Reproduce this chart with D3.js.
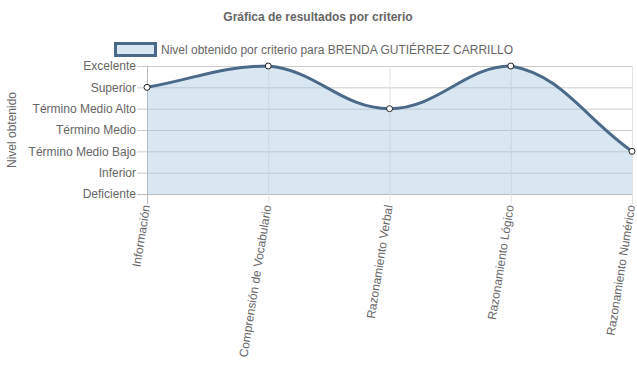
<!DOCTYPE html>
<html>
<head>
<meta charset="utf-8">
<script src="https://cdn.jsdelivr.net/npm/d3@7"></script>
<style>
  body { margin: 0; background: #fff; }
  text { font-family: "Liberation Sans", Arial, sans-serif; fill: #666; }
</style>
</head>
<body>
<svg id="chart" width="637" height="389"></svg>
<script>
const categories = ["Información", "Comprensión de Vocabulario", "Razonamiento Verbal", "Razonamiento Lógico", "Razonamiento Numérico"];
const levels = ["Deficiente", "Inferior", "Término Medio Bajo", "Término Medio", "Término Medio Alto", "Superior", "Excelente"];
const values = [5, 6, 4, 6, 2];
const seriesName = "Nivel obtenido por criterio para BRENDA GUTIÉRREZ CARRILLO";
const title = "Gráfica de resultados por criterio";

const lineColor = "#4b6a88";
const fillColor = "rgb(160,195,225)";

const svg = d3.select("#chart");
const area = { left: 147, right: 632, top: 66, bottom: 194 };

const x = d3.scalePoint().domain(categories).range([area.left, area.right]);
const y = d3.scaleLinear().domain([0, levels.length - 1]).range([area.bottom, area.top]);

// Title
svg.append("text")
  .attr("x", 318).attr("y", 21)
  .attr("text-anchor", "middle")
  .attr("font-size", 12).attr("font-weight", "bold")
  .text(title);

// Legend
svg.append("rect")
  .attr("x", 115.5).attr("y", 43.5).attr("width", 40).attr("height", 12)
  .attr("fill", "#d9e7f3").attr("stroke", lineColor).attr("stroke-width", 3);
svg.append("text")
  .attr("x", 161).attr("y", 54)
  .attr("font-size", 12)
  .text(seriesName);

// Horizontal grid + y ticks
const yTicks = d3.range(levels.length);
svg.append("g")
  .selectAll("line")
  .data(yTicks)
  .join("line")
  .attr("x1", area.left - 10).attr("x2", area.right)
  .attr("y1", (d) => y(d) + 0.5).attr("y2", (d) => y(d) + 0.5)
  .attr("stroke", (d) => (d === 0 ? "#bbb" : "#ccc"))
  .attr("stroke-width", 1);

svg.append("g")
  .selectAll("text")
  .data(yTicks)
  .join("text")
  .attr("x", area.left - 11)
  .attr("y", (d) => y(d))
  .attr("dy", "0.35em")
  .attr("text-anchor", "end")
  .attr("font-size", 12)
  .text((d) => levels[d]);

// Vertical grid
svg.append("g")
  .selectAll("line")
  .data(categories)
  .join("line")
  .attr("x1", (d) => x(d) + 0.5).attr("x2", (d) => x(d) + 0.5)
  .attr("y1", area.top).attr("y2", area.bottom + 10)
  .attr("stroke", (d, i) => (i === 0 ? "#bbb" : "#e4e4e4"))
  .attr("stroke-width", 1);

// X labels
svg.append("g")
  .selectAll("text")
  .data(categories)
  .join("text")
  .attr("transform", (d) => `translate(${x(d) - 1},${area.bottom + 11}) rotate(-81)`)
  .attr("text-anchor", "end")
  .attr("dy", "0.35em")
  .attr("font-size", 12)
  .text((d) => d);

// Y axis title
svg.append("text")
  .attr("transform", `translate(12,${(area.top + area.bottom) / 2}) rotate(-90)`)
  .attr("text-anchor", "middle")
  .attr("dy", "0.35em")
  .attr("font-size", 12)
  .text("Nivel obtenido");

// Spline path (Chart.js style, tension 0.4, control points capped to chart area)
const pts = values.map((v, i) => ({ x: x(categories[i]), y: y(v) }));
const t = 0.4;
const cap = (p) => ({
  x: Math.max(area.left, Math.min(area.right, p.x)),
  y: Math.max(area.top, Math.min(area.bottom, p.y)),
});
pts.forEach((p, i) => {
  const prev = i > 0 ? pts[i - 1] : p;
  const next = i < pts.length - 1 ? pts[i + 1] : p;
  const d01 = Math.hypot(p.x - prev.x, p.y - prev.y);
  const d12 = Math.hypot(next.x - p.x, next.y - p.y);
  let s01 = d01 / (d01 + d12), s12 = d12 / (d01 + d12);
  if (isNaN(s01)) s01 = 0;
  if (isNaN(s12)) s12 = 0;
  const fa = t * s01, fb = t * s12;
  p.cp1 = cap({ x: p.x - fa * (next.x - prev.x), y: p.y - fa * (next.y - prev.y) });
  p.cp2 = cap({ x: p.x + fb * (next.x - prev.x), y: p.y + fb * (next.y - prev.y) });
});

function splinePath(ctx) {
  ctx.moveTo(pts[0].x, pts[0].y);
  for (let i = 1; i < pts.length; i++) {
    const a = pts[i - 1], b = pts[i];
    ctx.bezierCurveTo(a.cp2.x, a.cp2.y, b.cp1.x, b.cp1.y, b.x, b.y);
  }
  return ctx;
}

const fillPath = splinePath(d3.path());
fillPath.lineTo(pts[pts.length - 1].x, y(0));
fillPath.lineTo(pts[0].x, y(0));
fillPath.closePath();

svg.append("path")
  .attr("d", fillPath.toString())
  .attr("fill", fillColor)
  .attr("fill-opacity", 0.4);

svg.append("path")
  .attr("d", splinePath(d3.path()).toString())
  .attr("fill", "none")
  .attr("stroke", lineColor)
  .attr("stroke-width", 3);

// Points
svg.append("g")
  .selectAll("circle")
  .data(pts)
  .join("circle")
  .attr("cx", (d) => d.x).attr("cy", (d) => d.y)
  .attr("r", 3)
  .attr("fill", "#fff")
  .attr("stroke", "#222")
  .attr("stroke-width", 1);
</script>
</body>
</html>
